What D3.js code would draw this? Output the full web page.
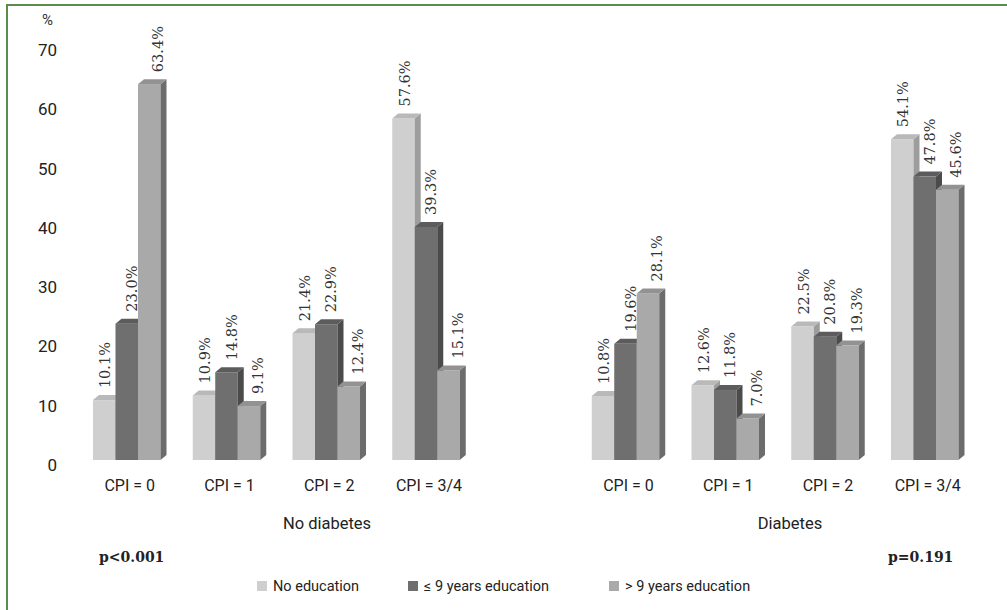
<!DOCTYPE html>
<html>
<head>
<meta charset="utf-8">
<script src="https://cdn.jsdelivr.net/npm/d3@7"></script>
<style>
  body { margin: 0; background: #fff; }
  svg { display: block; }
</style>
</head>
<body>
<div class="container"></div>
<script>
// data
const slots = ["nd0", "nd1", "nd2", "nd34", "gap", "d0", "d1", "d2", "d34"]
const slotLabels = ["CPI = 0", "CPI = 1", "CPI = 2", "CPI = 3/4", "", "CPI = 0", "CPI = 1", "CPI = 2", "CPI = 3/4"]
const series = ["No education", "\u2264 9 years education", "> 9 years education"]
const noEducation = [10.1, 10.9, 21.4, 57.6, null, 10.8, 12.6, 22.5, 54.1]
const upTo9Years = [23.0, 14.8, 22.9, 39.3, null, 19.6, 11.8, 20.8, 47.8]
const over9Years = [63.4, 9.1, 12.4, 15.1, null, 28.1, 7.0, 19.3, 45.6]
const yTicks = [0, 10, 20, 30, 40, 50, 60, 70]

const w = 1007
const h = 610
const depthX = 6
const depthY = -5
const groupW = 67.5
const sans = "Roboto, 'Open Sans', sans-serif"

// front / top / side shades per series
const fronts = ["#cfcfcf", "#6f6f6f", "#a9a9a9"]
const tops = ["#b9b9b9", "#5c5c5c", "#929292"]
const sides = ["#9d9d9d", "#4b4b4b", "#6c6c6c"]
const labelShift = [1, 5, 9]

const svg = d3.select(".container")
  .append("svg")
  .attr("width", w)
  .attr("height", h)

// green frame (only top and left show in the crop)
svg.append("path")
  .attr("d", "M7," + (h + 5) + " L7,5 L" + (w + 5) + ",5")
  .attr("fill", "none")
  .attr("stroke", "#5b8c4c")
  .attr("stroke-width", 2)

const yScale = d3.scaleLinear().domain([0, 70]).range([460, 45])
const xScale = d3.scaleBand().domain(slots).range([93, 93 + 9 * 99.75])
const xInner = d3.scaleBand().domain(series).range([0, groupW])

const yAxis = d3.axisLeft(yScale).tickValues(yTicks).tickSize(0).tickPadding(0)
const yAxisG = svg.append("g")
  .attr("transform", "translate(57,5)")
  .call(yAxis)
yAxisG.select(".domain").remove()
yAxisG.selectAll("text")
  .attr("font-family", sans)
  .attr("font-size", 17)
  .attr("fill", "#222")

svg.append("text")
  .attr("x", 42)
  .attr("y", 25)
  .attr("font-family", sans)
  .attr("font-size", 15)
  .attr("fill", "#333")
  .text("%")

const rows = []
slots.forEach((s, i) => {
  [noEducation, upTo9Years, over9Years].forEach((arr, k) => {
    if (arr[i] !== null) rows.push({ slot: s, k: k, serie: series[k], value: arr[i] })
  })
})

const bars = svg.append("g")
  .selectAll("g")
  .data(rows)
  .enter()
  .append("g")

const x0 = (d) => xScale(d.slot) + xInner(d.serie)
const x1 = (d) => x0(d) + xInner.bandwidth()
const y0 = yScale(0)

bars.append("rect")
  .attr("x", (d) => x0(d))
  .attr("y", (d) => yScale(d.value))
  .attr("width", xInner.bandwidth())
  .attr("height", (d) => y0 - yScale(d.value))
  .attr("fill", (d) => fronts[d.k])

bars.append("path")
  .attr("d", (d) => {
    const yt = yScale(d.value)
    return "M" + x1(d) + "," + yt + " L" + (x1(d) + depthX) + "," + (yt + depthY) +
      " L" + (x1(d) + depthX) + "," + (y0 + depthY) + " L" + x1(d) + "," + y0 + "Z"
  })
  .attr("fill", (d) => sides[d.k])

bars.append("path")
  .attr("d", (d) => {
    const yt = yScale(d.value)
    return "M" + x0(d) + "," + yt + " L" + (x0(d) + depthX) + "," + (yt + depthY) +
      " L" + (x1(d) + depthX) + "," + (yt + depthY) + " L" + x1(d) + "," + yt + "Z"
  })
  .attr("fill", (d) => tops[d.k])

// value labels, rotated
bars.append("text")
  .attr("transform", (d) => "translate(" + ((x0(d) + x1(d)) / 2 + labelShift[d.k]) + "," + (yScale(d.value) - 12) + ") rotate(-90)")
  .attr("dy", "0.35em")
  .attr("font-family", "'DejaVu Serif', serif")
  .attr("font-size", 14.5)
  .attr("fill", "#333")
  .text((d) => d.value.toFixed(1) + "%")

// category labels
svg.append("g")
  .selectAll("text")
  .data(slots.filter((s) => s !== "gap"))
  .enter()
  .append("text")
  .attr("x", (s) => xScale(s) + (groupW + depthX) / 2)
  .attr("y", 491)
  .attr("text-anchor", "middle")
  .attr("font-family", sans)
  .attr("font-size", 16)
  .attr("fill", "#222")
  .text((s) => slotLabels[slots.indexOf(s)])

svg.append("text")
  .attr("x", 327).attr("y", 529)
  .attr("text-anchor", "middle")
  .attr("font-family", sans)
  .attr("font-size", 16.5).attr("fill", "#222")
  .text("No diabetes")

svg.append("text")
  .attr("x", 790).attr("y", 529)
  .attr("text-anchor", "middle")
  .attr("font-family", sans)
  .attr("font-size", 16.5).attr("fill", "#222")
  .text("Diabetes")

svg.append("text")
  .attr("x", 99).attr("y", 562)
  .attr("font-family", "'DejaVu Serif', serif")
  .attr("font-weight", "bold")
  .attr("font-size", 14).attr("fill", "#222")
  .text("p<0.001")

svg.append("text")
  .attr("x", 888).attr("y", 562)
  .attr("font-family", "'DejaVu Serif', serif")
  .attr("font-weight", "bold")
  .attr("font-size", 14).attr("fill", "#222")
  .text("p=0.191")

// legend
const legendX = [257, 408, 609]
const legend = svg.append("g")
  .selectAll("g")
  .data(series)
  .enter()
  .append("g")
  .attr("transform", (d, i) => "translate(" + legendX[i] + ",581)")

legend.append("rect")
  .attr("width", 10).attr("height", 10)
  .attr("fill", (d, i) => fronts[i])

legend.append("text")
  .attr("x", 16).attr("y", 10)
  .attr("font-family", sans)
  .attr("font-size", 14.5).attr("fill", "#222")
  .text((d) => d)
</script>
</body>
</html>
